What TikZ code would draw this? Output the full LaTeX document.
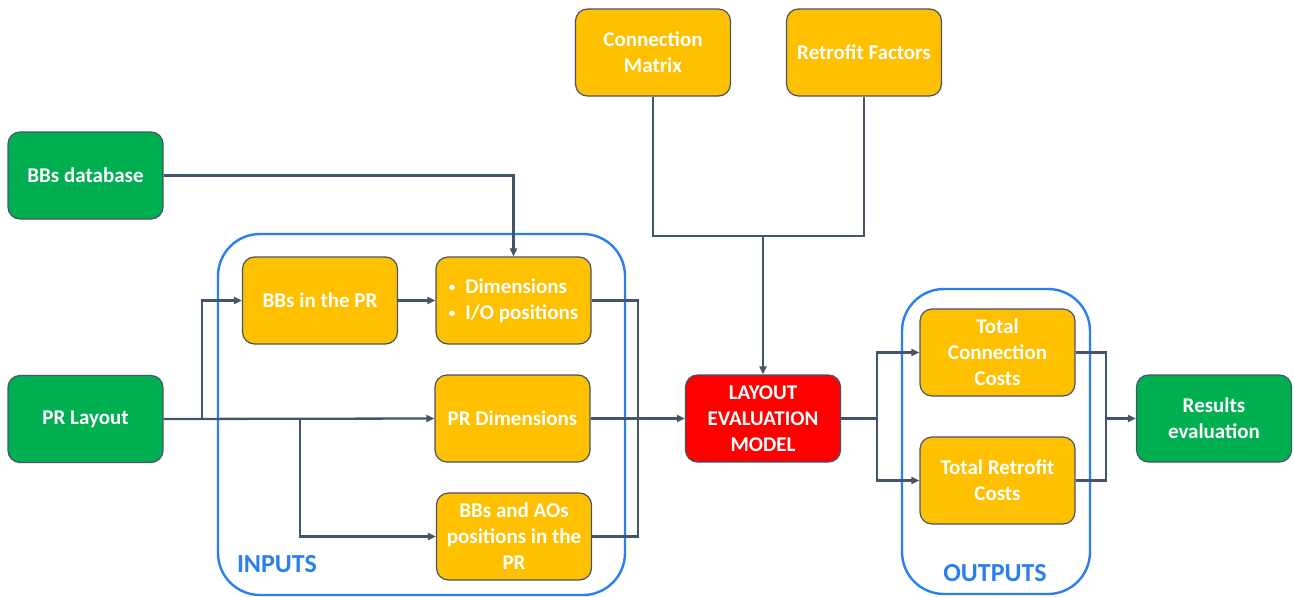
\documentclass[tikz,border=0pt]{standalone}
\usepackage{fontspec}
\setmainfont{Carlito}
\usetikzlibrary{arrows.meta}
\definecolor{boxgreen}{HTML}{00B050}
\definecolor{boxorange}{HTML}{FFC000}
\definecolor{boxred}{HTML}{FF0000}
\definecolor{edge}{HTML}{44546A}
\definecolor{groupblue}{HTML}{2A7FF0}
\newcommand{\smallbullet}{{\fontsize{13}{13}\selectfont\raisebox{1.5pt}{\textbullet}}\hspace{10pt}}
\begin{document}
\begin{tikzpicture}[x=1pt,y=-1pt,
  block/.style={draw=edge, line width=1.2pt, rounded corners=12pt,
    minimum width=155pt, minimum height=87pt, inner sep=2pt, align=center,
    text=white, font=\fontsize{21}{26}\selectfont\bfseries},
  greenbox/.style={block, fill=boxgreen},
  orangebox/.style={block, fill=boxorange},
  redbox/.style={block, fill=boxred},
  group/.style={draw=groupblue, line width=2.4pt, rounded corners=42pt},
  grouplabel/.style={text=groupblue, font=\fontsize{26}{28}\selectfont\bfseries},
  link/.style={draw=edge, line width=2.3pt},
  arrow/.style={link, -{Triangle[length=8pt,width=7pt]}}
]
\useasboundingbox (0,0) rectangle (1294,597);

% group frames
\draw[group] (218,234) rectangle (625,595);
\draw[group] (902,289) rectangle (1090,594);
\node[grouplabel] (inlabel) at (277,564) {INPUTS};
\node[grouplabel] (outlabel) at (995,573) {OUTPUTS};

% blocks
\node[greenbox] (bbdb) at (85.5,175.5) {BBs database};
\node[greenbox] (prlayout) at (85.5,419) {PR Layout};
\node[orangebox] (bbpr) at (320,300.5) {BBs in the PR};
\node[orangebox, align=left] (dims) at (513.5,300.5)
  {\smallbullet Dimensions\\\smallbullet I/O positions};
\node[orangebox] (prdim) at (512.5,418.5) {PR Dimensions};
\node[orangebox] (bbao) at (514,536.5) {BBs and AOs\\positions in the\\PR};
\node[orangebox] (cmat) at (653,52.5) {Connection\\Matrix};
\node[orangebox] (rfac) at (864,52.5) {Retrofit Factors};
\node[redbox] (lem) at (763,418.5) {LAYOUT\\EVALUATION\\MODEL};
\node[orangebox] (tcc) at (997.5,352.5) {Total\\Connection\\Costs};
\node[orangebox] (trc) at (997.5,480.5) {Total Retrofit\\Costs};
\node[greenbox] (res) at (1214,418.5) {Results\\evaluation};

% junction points
\coordinate (splitA) at (202,419);
\coordinate (splitB) at (300,419);
\coordinate (mergeIn) at (638,300.5);
\coordinate (mergeTop) at (763,236);
\coordinate (splitOut) at (877,418.5);
\coordinate (mergeOut) at (1106,418.5);

% connectors
\draw[arrow] (bbdb.east) -| (dims.north);
\draw[arrow] (prlayout.east) -- (prdim.west);
\draw[arrow] (splitA) |- (bbpr.west);
\draw[arrow] (splitB) |- (bbao.west);
\draw[arrow] (bbpr.east) -- (dims.west);
\draw[link] (dims.east) -- (mergeIn) |- (bbao.east);
\draw[arrow] (prdim.east) -- (lem.west);
\draw[link] (cmat.south) |- (mergeTop) -| (rfac.south);
\draw[arrow] (mergeTop) -- (lem.north);
\draw[link] (lem.east) -- (splitOut);
\draw[arrow] (splitOut) |- (tcc.west);
\draw[arrow] (splitOut) |- (trc.west);
\draw[link] (tcc.east) -| (mergeOut) |- (trc.east);
\draw[arrow] (mergeOut) -- (res.west);
\end{tikzpicture}
\end{document}
